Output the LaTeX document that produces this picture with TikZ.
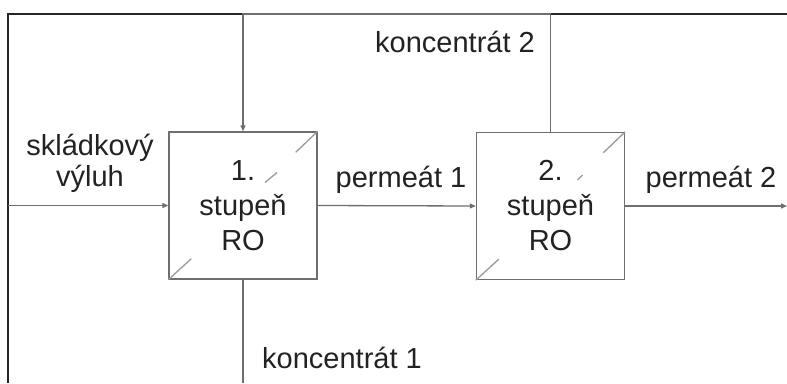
\documentclass[tikz,border=0pt]{standalone}
\usepackage{fontspec}
\setmainfont{Liberation Sans}
\usetikzlibrary{arrows.meta}
\definecolor{linegray}{HTML}{6E6E6E}
\definecolor{txtgray}{HTML}{222222}
\definecolor{diaggray}{HTML}{9A9A9A}
\begin{document}
\begin{tikzpicture}[x=1pt,y=-1pt,
  every node/.style={text=txtgray},
  lbl/.style={font=\fontsize{29}{31}\selectfont, inner sep=0pt, align=center},
  robox/.style={draw=linegray, line width=1.4pt, fill=white, minimum width=148pt, minimum height=147pt,
    font=\fontsize{29}{35}\selectfont, align=center, inner sep=0pt},
  flow/.style={draw=linegray, line width=1.3pt, -{Triangle[length=6pt,width=5pt]}},
  plain/.style={draw=linegray, line width=1.3pt},
  frame/.style={draw=black!85, line width=2pt},
  diag/.style={draw=diaggray, line width=1.3pt}]
\useasboundingbox (0,0) rectangle (787,383);
% frame
\coordinate (ftl) at (8,14);
\coordinate (ftr) at (787,14);
\coordinate (fbl) at (8,383);
\draw[frame] (fbl) -- (ftl) -- (ftr);
% boxes
\node[robox] (b1) at (243,205.5) {1.\\stupeň\\RO};
\node[robox] (b2) at (550.5,206) {2.\\stupeň\\RO};
% diagonal membrane marks
\draw[diag] (b1.south west) -- ++(23,-21);
\draw[diag] (b1.north east) -- ++(-22,21);
\draw[diag] ([shift={(22,-23)}]b1.center) -- ++(12,-10);
\draw[diag] (b2.south west) -- ++(23,-21);
\draw[diag] (b2.north east) -- ++(-22,21);
\draw[diag] ([shift={(27,-26)}]b2.center) -- ++(5,-5);
% coordinates for connectors
\coordinate (in) at (8,205.5);
\coordinate (out) at (787,206);
\coordinate (r2) at (b2.north |- ftl);
\coordinate (r1) at (b1.north |- ftl);
\coordinate (c1) at (b1.south |- fbl);
% connectors
\draw[flow] (in) -- (b1.west);
\draw[flow] (b1.east) -- (b2.west);
\draw[flow] (b2.east) -- (out);
\draw[flow] (b2.north) -- (r2) -- (r1) -- (b1.north);
\draw[plain] (b1.south) -- (c1);
% labels
\node[lbl] (lin) at (90,163) {skládkový\\výluh};
\node[lbl] (lp1) at (401,180) {permeát 1};
\node[lbl] (lp2) at (711,180) {permeát 2};
\node[lbl] (lk2) at (455,42) {koncentrát 2};
\node[lbl] (lk1) at (342,358) {koncentrát 1};
\end{tikzpicture}
\end{document}
